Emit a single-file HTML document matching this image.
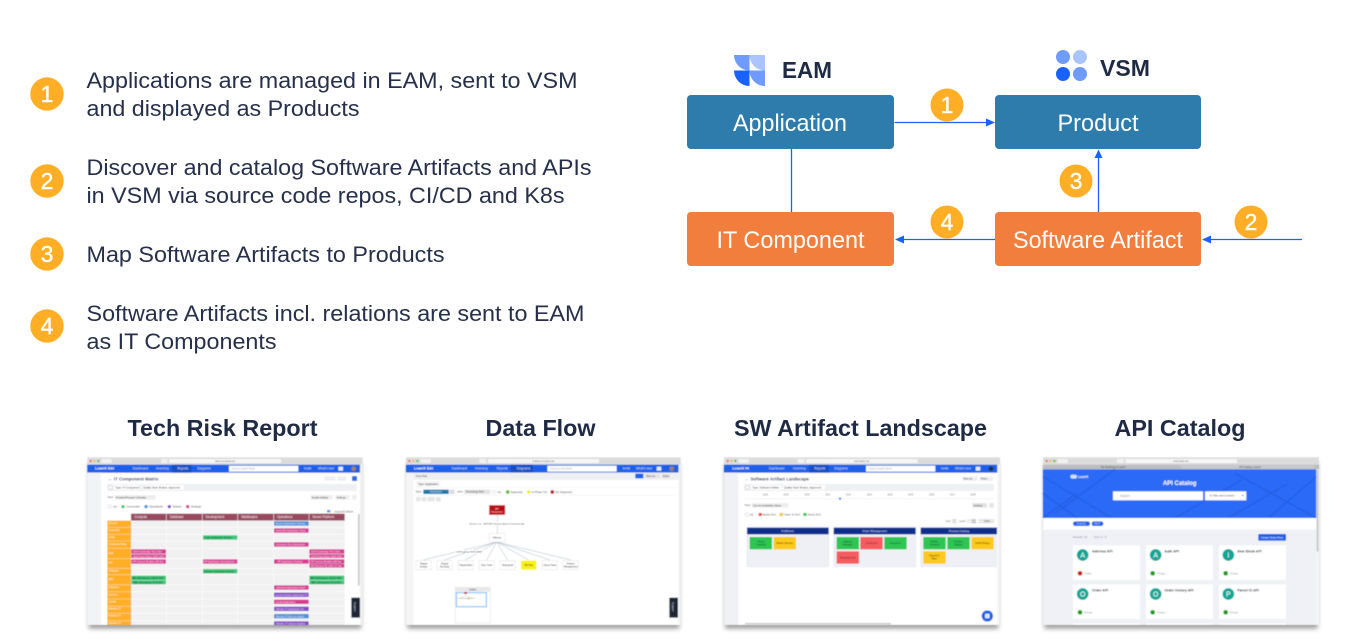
<!DOCTYPE html>
<html><head><meta charset="utf-8"><style>
html,body{margin:0;padding:0;background:#fff;width:1352px;height:644px;overflow:hidden}
svg{display:block;font-family:"Liberation Sans",sans-serif}
</style></head><body>
<svg width="1352" height="644" viewBox="0 0 1352 644" xmlns="http://www.w3.org/2000/svg">
<defs>
<filter id="bl" x="-5%" y="-5%" width="110%" height="110%"><feGaussianBlur stdDeviation="1.300"/></filter>
<filter id="sh" x="-10%" y="-10%" width="120%" height="125%"><feGaussianBlur stdDeviation="7"/></filter>
</defs>
<rect width="1352" height="644" fill="#fff"/>

<!-- left list -->
<g fill="#ffae26"><circle cx="47" cy="94" r="16.700"/><circle cx="47" cy="181" r="16.700"/><circle cx="47" cy="254" r="16.700"/><circle cx="47" cy="326" r="16.700"/></g>
<g fill="#fff" stroke="#fff" stroke-width=".4" font-size="23" text-anchor="middle"><text x="47" y="102">1</text><text x="47" y="189">2</text><text x="47" y="262">3</text><text x="47" y="334">4</text></g>
<g fill="#26304a" font-size="22.500">
<text x="86.500" y="88" textLength="491" lengthAdjust="spacingAndGlyphs">Applications are managed in EAM, sent to VSM</text>
<text x="86.500" y="116" textLength="273" lengthAdjust="spacingAndGlyphs">and displayed as Products</text>
<text x="86.500" y="175" textLength="505" lengthAdjust="spacingAndGlyphs">Discover and catalog Software Artifacts and APIs</text>
<text x="86.500" y="203" textLength="478" lengthAdjust="spacingAndGlyphs">in VSM via source code repos, CI/CD and K8s</text>
<text x="86.500" y="262" textLength="358" lengthAdjust="spacingAndGlyphs">Map Software Artifacts to Products</text>
<text x="86.500" y="321" textLength="498" lengthAdjust="spacingAndGlyphs">Software Artifacts incl. relations are sent to EAM</text>
<text x="86.500" y="349" textLength="190" lengthAdjust="spacingAndGlyphs">as IT Components</text>
</g>

<!-- logos -->
<path d="M734 55H749.500V70.500A15.500 15.500 0 0 1 734 55Z" fill="#6f9bff"/>
<path d="M749.500 55H765V70.500A15.500 15.500 0 0 1 749.500 55Z" fill="#a9c4ff"/>
<path d="M734 70.500H749.500V86A15.500 15.500 0 0 1 734 70.500Z" fill="#1a62ff"/>
<path d="M749.500 70.500H765V86A15.500 15.500 0 0 1 749.500 70.500Z" fill="#6f9bff"/>
<text x="782" y="78" font-size="23" font-weight="700" fill="#1f2a44" textLength="50" lengthAdjust="spacingAndGlyphs">EAM</text>
<circle cx="1063" cy="57" r="7" fill="#6f9bff"/><circle cx="1080" cy="57" r="7" fill="#a9c4ff"/>
<circle cx="1063" cy="74" r="7" fill="#1a62ff"/><circle cx="1080" cy="74" r="7" fill="#6f9bff"/>
<text x="1100" y="76" font-size="23" font-weight="700" fill="#1f2a44" textLength="50" lengthAdjust="spacingAndGlyphs">VSM</text>

<!-- boxes -->
<rect x="687" y="95" width="207" height="54" rx="4" fill="#2e7cac"/>
<rect x="995" y="95" width="206" height="54" rx="4" fill="#2e7cac"/>
<rect x="687" y="212" width="207" height="54" rx="4" fill="#f27e3d"/>
<rect x="995" y="212" width="206" height="54" rx="4" fill="#f27e3d"/>
<g fill="#fff" font-size="24" text-anchor="middle">
<text x="790" y="131" textLength="114" lengthAdjust="spacingAndGlyphs">Application</text>
<text x="1098" y="131" textLength="81" lengthAdjust="spacingAndGlyphs">Product</text>
<text x="790.500" y="248" textLength="148" lengthAdjust="spacingAndGlyphs">IT Component</text>
<text x="1098" y="248" textLength="170" lengthAdjust="spacingAndGlyphs">Software Artifact</text>
</g>

<!-- connectors -->
<g stroke="#1a62ff" stroke-width="1.300" fill="none">
<path d="M894.500 122.500H988"/>
<path d="M791.500 149V212"/>
<path d="M1098.500 212V155"/>
<path d="M995 239.500H901"/>
<path d="M1302 239.500H1208"/>
</g>
<g fill="#1a62ff">
<path d="M995 122.500L986 118.500V126.500Z"/>
<path d="M1098.500 149.500L1094.500 158H1102.500Z"/>
<path d="M895 239.500L904 235.500V243.500Z"/>
<path d="M1202 239.500L1211 235.500V243.500Z"/>
</g>
<g fill="#ffae26"><circle cx="947" cy="105" r="16.500"/><circle cx="1076" cy="181" r="16.500"/><circle cx="947" cy="222" r="16.500"/><circle cx="1251" cy="222" r="16.500"/></g>
<g fill="#fff" stroke="#fff" stroke-width=".4" font-size="23" text-anchor="middle"><text x="947" y="113">1</text><text x="1076" y="189">3</text><text x="947" y="230">4</text><text x="1251" y="230">2</text></g>

<!-- headings -->
<g fill="#1f2a44" font-size="23.500" font-weight="700" text-anchor="middle">
<text x="222.500" y="436" textLength="190" lengthAdjust="spacingAndGlyphs">Tech Risk Report</text>
<text x="540.500" y="436" textLength="110" lengthAdjust="spacingAndGlyphs">Data Flow</text>
<text x="860.500" y="436" textLength="253" lengthAdjust="spacingAndGlyphs">SW Artifact Landscape</text>
<text x="1180" y="436" textLength="131" lengthAdjust="spacingAndGlyphs">API Catalog</text>
</g>

<!-- thumbnail 1 -->
<g transform="translate(80,450) scale(.33333)">
<rect x="26" y="40" width="818" height="496" fill="#000" opacity=".38" filter="url(#sh)"/>
<g filter="url(#bl)" font-size="8">
<rect x="22" y="22" width="826" height="503" fill="#fff"/>
<rect x="22" y="22" width="826" height="22" fill="#dcdcdc"/>
<circle cx="32" cy="33" r="3.500" fill="#f0584f"/><circle cx="43" cy="33" r="3.500" fill="#f4b83c"/><circle cx="55" cy="33" r="3.500" fill="#49b84c"/>
<rect x="65" y="27" width="30" height="12" fill="#f2f2f2"/><rect x="244" y="27" width="18" height="12" fill="#f2f2f2"/>
<rect x="268" y="27" width="335" height="12" fill="#f6f6f6"/><text x="435" y="36" text-anchor="middle" font-size="7" fill="#555">demo-eu.leanix.net</text>
<rect x="22" y="44" width="818" height="24" fill="#1a5fe8"/>
<rect x="276" y="44" width="58" height="24" fill="#164fc4"/>
<text x="45" y="59" fill="#fff" font-weight="700" font-size="11">LeanIX EAI</text>
<g fill="#d8e4ff" font-size="9.500"><text x="158" y="59">Dashboard</text><text x="228" y="59">Inventory</text><text x="292" y="59">Reports</text><text x="352" y="59">Diagrams</text><text x="672" y="59">Invite</text><text x="714" y="59">What's new</text></g>
<rect x="447" y="47" width="208" height="18" fill="#fff"/><text x="455" y="59" font-size="7" fill="#999">Jump to LeanIX Street</text>
<rect x="775" y="50" width="14" height="12" fill="#e8eefc"/><circle cx="821" cy="56" r="7" fill="#9a8070"/>
<rect x="840" y="44" width="8" height="481" fill="#f0f0f0"/>
<rect x="22" y="68" width="41" height="457" fill="#f2f3f5"/>
<text x="84" y="92" font-size="13.500" font-weight="700" fill="#26304a">← IT Component Matrix</text>
<rect x="733" y="80" width="34" height="12" fill="#eee"/><rect x="772" y="80" width="26" height="12" fill="#eee"/><rect x="816" y="78" width="15" height="15" fill="#2a6fe0"/>
<rect x="82" y="102" width="748" height="21" fill="#eef0f4"/>
<circle cx="91" cy="112" r="6" fill="#fff" stroke="#999"/><rect x="102" y="106" width="77" height="13" fill="#fff"/><rect x="186" y="106" width="125" height="13" fill="#fff"/>
<text x="106" y="115" font-size="8" fill="#333">Type: IT Component</text><text x="189" y="115" font-size="8" fill="#333">Quality Seal: Broken, Approved</text>
<text x="82" y="144" font-size="8" fill="#555">View:</text><rect x="104" y="135" width="122" height="14" fill="#eee"/><text x="108" y="145" font-size="7.500" fill="#444">Provider/Provider Criticality</text><rect x="692" y="135" width="66" height="14" fill="#eee"/><text x="696" y="145" font-size="7.500" fill="#444">Enable Editing</text><rect x="766" y="135" width="42" height="14" fill="#eee"/><text x="770" y="145" font-size="7.500" fill="#444">Settings</text><rect x="816" y="135" width="14" height="14" fill="#eee"/>
<rect x="85" y="165" width="9" height="9" fill="#fff" stroke="#bbb"/><text x="99" y="173" font-size="8" fill="#444">n/a</text>
<circle cx="129" cy="170" r="5" fill="#3cc66e"/><circle cx="198" cy="170" r="5" fill="#3f8ddb"/><circle cx="268" cy="170" r="5" fill="#7c45c4"/><circle cx="323" cy="170" r="5" fill="#d5358e"/>
<g font-size="8" fill="#444"><text x="139" y="173">Commodity</text><text x="207" y="173">Operational</text><text x="277" y="173">Tactical</text><text x="333" y="173">Strategic</text></g>
<rect x="741" y="180" width="10" height="7" fill="#4b90d8"/><text x="764" y="187" font-size="7.500" fill="#666">Expand/Collapse</text>
<rect x="153" y="191" width="641" height="21" fill="#98495f"/>
<g stroke="#fff" stroke-width="1.500"><path d="M259 191V212M367 191V212M473 191V212M581 191V212M687 191V212"/></g>
<g font-size="9.500" fill="#fff"><text x="163" y="204">Compute</text><text x="270" y="204">Database</text><text x="377" y="204">Development</text><text x="484" y="204">Middleware</text><text x="591" y="204">Operations</text><text x="697" y="204">Server Platform</text></g>
<rect x="153" y="212" width="641" height="313" fill="#f1f1f1"/>
<g stroke="#fff" stroke-width="1.500"><path d="M259 212V525M367 212V525M473 212V525M581 212V525M687 212V525M153 232H794M153 253H794M153 273H794M153 295H794M153 326H794M153 355H794M153 374H794M153 404H794M153 425H794M153 447H794M153 469H794M153 490H794M153 512H794"/></g>
<rect x="82" y="212" width="71" height="313" fill="#ffae26"/>
<g stroke="#fff"><path d="M82 232H153M82 253H153M82 273H153M82 295H153M82 326H153M82 355H153M82 374H153M82 404H153M82 425H153M82 447H153M82 469H153M82 490H153M82 512H153"/></g>
<g font-size="8" fill="#fff"><text x="86" y="222">Access</text><text x="86" y="243">AutoCAD</text><text x="86" y="264">Inxile</text><text x="86" y="285">Customer King</text><text x="86" y="312">Dell</text><text x="86" y="340">HP</text><text x="86" y="365">Hubspot</text><text x="86" y="390">IBM</text><text x="86" y="414">jetbrains</text><text x="86" y="436">Lenovo</text><text x="86" y="458">Lynda</text><text x="86" y="479">Mantiss IT</text><text x="86" y="500">Mantiss IT</text><text x="86" y="522">Mantiss IT</text></g>
<g fill="#d53b8f">
<rect x="582" y="235" width="104" height="13"/><rect x="582" y="277" width="104" height="13"/>
<rect x="154" y="298" width="104" height="13"/><rect x="154" y="313" width="104" height="11"/>
<rect x="688" y="298" width="105" height="13"/><rect x="688" y="313" width="105" height="11"/>
<rect x="154" y="328" width="104" height="13"/><rect x="369" y="328" width="103" height="13"/><rect x="582" y="328" width="104" height="13"/><rect x="688" y="328" width="105" height="13"/><rect x="688" y="342" width="105" height="11"/>
<rect x="582" y="406" width="104" height="13"/><rect x="582" y="449" width="104" height="13"/>
</g>
<g fill="#3fc77a">
<rect x="369" y="256" width="103" height="13"/><rect x="369" y="357" width="103" height="13"/>
<rect x="154" y="377" width="104" height="13"/><rect x="154" y="391" width="104" height="12"/>
<rect x="688" y="377" width="105" height="13"/><rect x="688" y="391" width="105" height="12"/>
</g>
<g fill="#4a90d9"><rect x="582" y="214" width="104" height="13"/><rect x="582" y="492" width="104" height="13"/></g>
<g fill="#7d46c6"><rect x="582" y="428" width="104" height="13"/><rect x="582" y="470" width="104" height="13"/><rect x="582" y="514" width="104" height="11"/></g>
<g font-size="7.500" fill="#fbe3ef">
<text x="588" y="245">AutoCAD Application Hosti</text><text x="588" y="287">Customer King Application</text>
<text x="160" y="308">Dell Knowledge Tiko Clien</text><text x="160" y="322">Dell Power Edge 1940 1941</text>
<text x="694" y="308">Dell Knowledge Tiko Clien</text><text x="694" y="322">Dell Power Edge 1940 1941</text>
<text x="158" y="338">HP Conson Brokilia 168 Ser</text><text x="372" y="338">HP Application Developmen</text><text x="592" y="338">HP Application Hosting</text><text x="692" y="338">HP Conson Brokilia 168 Ser</text><text x="692" y="351">HP ProLiant DL 630r G7 Ser</text>
<text x="588" y="416">Jetbrains Application Hosti</text><text x="588" y="459">Lynda Application</text>
<text x="586" y="224">Access Application Hosting</text><text x="588" y="502">Mantiss IT Memory Applic</text>
<text x="586" y="438">Lenovo Docker Application H</text><text x="588" y="480">Mantiss IT Application Ho</text><text x="588" y="524">Mantiss IT Volume Applica</text>
</g>
<g font-size="7.500" fill="#0c3a20">
<text x="374" y="266">Inxile Application Develo</text><text x="372" y="367">Hubspot Application Develo</text>
<text x="157" y="387">IBM WebSphere MQ/XI B55</text><text x="160" y="400">IBM z/Enterprise 5715 0K7</text>
<text x="691" y="387">IBM WebSphere MQ/XI B55</text><text x="694" y="400">IBM z/Enterprise 5715 0K7</text>
</g>
<rect x="834" y="192" width="5" height="215" fill="#c9c9c9"/>
<rect x="814" y="443" width="26" height="60" fill="#1d2536"/>
<text transform="translate(822,456) rotate(90)" font-size="8" fill="#ddd">Support</text>
</g></g>

<!-- thumbnail 2 -->
<g transform="translate(400,450) scale(.33333)">
<rect x="22" y="40" width="816" height="496" fill="#000" opacity=".38" filter="url(#sh)"/>
<g filter="url(#bl)" font-size="8">
<rect x="18" y="22" width="824" height="503" fill="#fff"/>
<rect x="18" y="22" width="824" height="22" fill="#dcdcdc"/>
<circle cx="28" cy="33" r="3.500" fill="#f0584f"/><circle cx="40" cy="33" r="3.500" fill="#f4b83c"/><circle cx="52" cy="33" r="3.500" fill="#49b84c"/>
<rect x="62" y="27" width="30" height="12" fill="#f2f2f2"/><rect x="238" y="27" width="20" height="12" fill="#f2f2f2"/>
<rect x="264" y="27" width="333" height="12" fill="#f6f6f6"/><text x="430" y="36" text-anchor="middle" font-size="7" fill="#555">d-demo-eu.leanix.net</text>
<rect x="18" y="44" width="818" height="24" fill="#1a5fe8"/>
<rect x="332" y="44" width="67" height="24" fill="#164fc4"/>
<text x="42" y="59" fill="#fff" font-weight="700" font-size="11">LeanIX EAI</text>
<g fill="#d8e4ff" font-size="9.500"><text x="155" y="59">Dashboard</text><text x="225" y="59">Inventory</text><text x="290" y="59">Reports</text><text x="350" y="59">Diagrams</text><text x="668" y="59">Invite</text><text x="708" y="59">What's new</text></g>
<rect x="442" y="47" width="208" height="18" fill="#fff"/><text x="450" y="59" font-size="7" fill="#999">Jump to a Fact Sheet</text>
<rect x="770" y="50" width="14" height="12" fill="#e8eefc"/><circle cx="815" cy="56" r="7" fill="#9a8070"/>
<rect x="836" y="44" width="6" height="481" fill="#f0f0f0"/>
<rect x="18" y="68" width="22" height="457" fill="#f5f5f5"/>
<rect x="40" y="68" width="796" height="22" fill="#eef0f4"/>
<text x="47" y="81" font-size="8" fill="#333">Tech Risk</text>
<rect x="706" y="71" width="24" height="14" fill="#1a5fe8"/><rect x="736" y="71" width="44" height="14" fill="#e4e4e4"/><text x="738" y="81" font-size="7.500" fill="#444">Save as</text><rect x="786" y="71" width="24" height="14" fill="#e4e4e4"/><text x="788" y="81" font-size="7.500" fill="#444">Share</text>
<rect x="48" y="94" width="72" height="16" fill="#f4f4f4"/><text x="54" y="105" font-size="8" fill="#333">Type: Application</text>
<text x="46" y="128" font-size="8" fill="#444">Type:</text><rect x="70" y="119" width="76" height="13" fill="#1e7aab"/><text x="108" y="128" text-anchor="middle" font-size="7.500" fill="#d5ecf7">Application</text><rect x="148" y="119" width="16" height="13" fill="#ddd"/>
<text x="171" y="128" font-size="8" fill="#444">View:</text><rect x="193" y="119" width="78" height="13" fill="#e4e4e4"/><text x="197" y="128" font-size="7.500" fill="#444">Technology Risk</text>
<circle cx="282" cy="126" r="5" fill="#fff" stroke="#bbb"/><text x="292" y="129" font-size="8" fill="#444">n/a</text><rect x="318" y="121" width="10" height="10" fill="#6eb43a"/><circle cx="386" cy="126" r="5" fill="#f2e70c"/><rect x="452" y="121" width="10" height="10" fill="#b00f14"/>
<g font-size="8" fill="#444"><text x="331" y="129">Supported</text><text x="395" y="129">In Phase Out</text><text x="465" y="129">Not Supported</text></g>
<rect x="48" y="141" width="14" height="13" fill="#e6e6e6"/><rect x="65" y="141" width="14" height="13" fill="#e6e6e6"/><rect x="82" y="141" width="22" height="13" fill="#e6e6e6"/><rect x="108" y="141" width="14" height="13" fill="#e6e6e6"/>
<path d="M40 113H836M40 136H836" stroke="#e8e8e8"/>
<g stroke="#8fa7bd" stroke-width="1.300" fill="none">
<path d="M292 194V250M290 276L70 330M290 276L134 330M290 276L196 330M290 276L260 330M290 276L323 330M290 276L386 330M290 276L449 330M290 276L512 330"/>
</g>
<rect x="268" y="166" width="47" height="28" fill="#b80f15" stroke="#e55"/>
<text x="291" y="179" text-anchor="middle" font-size="6.500" fill="#fff">API</text><text x="291" y="187" text-anchor="middle" font-size="6" fill="#fff">Management</text>
<rect x="203" y="216" width="176" height="9" fill="#fff"/><text x="291" y="223" text-anchor="middle" font-size="6.500" fill="#333">Amazon, Inc. / AWS API Gateway, Apache Integration Api</text>
<rect x="268" y="250" width="47" height="26" fill="#fff" stroke="#ddd" stroke-width="1.500"/><text x="291" y="265" text-anchor="middle" font-size="7" fill="#333">Alfresco</text>
<rect x="165" y="300" width="84" height="9" fill="#fff"/><text x="207" y="307" text-anchor="middle" font-size="6.500" fill="#333">Dell/Kingdiege PAXE SAAP</text>
<g fill="#fff" stroke="#ddd" stroke-width="1.500">
<rect x="48" y="332" width="46" height="27"/><rect x="111" y="332" width="46" height="27"/><rect x="174" y="332" width="46" height="27"/><rect x="237" y="332" width="46" height="27"/><rect x="300" y="332" width="46" height="27"/><rect x="426" y="332" width="46" height="27"/><rect x="489" y="332" width="46" height="27"/>
</g>
<rect x="363" y="332" width="46" height="27" fill="#fbf109"/>
<g font-size="7" fill="#333" text-anchor="middle"><text x="71" y="344">Paypal</text><text x="71" y="352">Europe</text><text x="134" y="344">Paypal</text><text x="134" y="352">Germany</text><text x="197" y="348">Paypal Bold</text><text x="260" y="348">Time Track</text><text x="323" y="348">Sharepoint</text><text x="386" y="348">HR Plus</text><text x="449" y="348">Casca Track</text><text x="512" y="344">Finance</text><text x="512" y="352">Management</text></g>
<rect x="166" y="412" width="105" height="107" fill="#fff" stroke="#ddd" stroke-width="1.500"/>
<rect x="166" y="412" width="105" height="13" fill="#e8e8e8"/>
<text x="218" y="421" text-anchor="middle" font-size="7" fill="#333">Outline</text>
<rect x="169" y="428" width="90" height="42" fill="#fff" stroke="#6db9ff" stroke-width="3"/>
<rect x="193" y="426" width="8" height="6" fill="#b80f15"/><circle cx="206" cy="446" r="3.500" fill="#f2e70c"/><path d="M172 445H225" stroke="#aaa" stroke-width="2"/><path d="M197 436L180 445M197 436L215 445" stroke="#aaa"/>
<rect x="808" y="443" width="26" height="60" fill="#1d2536"/>
<text transform="translate(816,456) rotate(90)" font-size="8" fill="#ddd">Support</text>
</g></g>

<!-- thumbnail 3 -->
<g transform="translate(715,450) scale(.33333)">
<rect x="30" y="40" width="820" height="496" fill="#000" opacity=".38" filter="url(#sh)"/>
<g filter="url(#bl)" font-size="8">
<rect x="27" y="22" width="828" height="503" fill="#fff"/>
<rect x="27" y="22" width="828" height="22" fill="#dcdcdc"/>
<circle cx="38" cy="33" r="3.500" fill="#f0584f"/><circle cx="49" cy="33" r="3.500" fill="#f4b83c"/><circle cx="61" cy="33" r="3.500" fill="#49b84c"/>
<rect x="71" y="27" width="30" height="12" fill="#f2f2f2"/><rect x="248" y="27" width="20" height="12" fill="#f2f2f2"/>
<rect x="274" y="27" width="334" height="12" fill="#f6f6f6"/><text x="440" y="36" text-anchor="middle" font-size="7" fill="#555">d-de.leanix.net</text>
<rect x="27" y="44" width="820" height="24" fill="#1a5fe8"/>
<rect x="283" y="44" width="58" height="24" fill="#164fc4"/>
<text x="52" y="59" fill="#fff" font-weight="700" font-size="11">LeanIX HI</text>
<g fill="#d8e4ff" font-size="9.500"><text x="162" y="59">Dashboard</text><text x="234" y="59">Inventory</text><text x="298" y="59">Reports</text><text x="358" y="59">Diagrams</text><text x="678" y="59">Invite</text><text x="720" y="59">What's new</text></g>
<rect x="453" y="47" width="208" height="18" fill="#fff"/><text x="461" y="59" font-size="7" fill="#999">Jump to LeanIX Street</text>
<rect x="782" y="50" width="14" height="12" fill="#e8eefc"/><circle cx="828" cy="56" r="7" fill="#234"/>
<rect x="847" y="44" width="8" height="481" fill="#f4f4f4"/>
<rect x="27" y="68" width="43" height="457" fill="#f0f1f4"/>
<text x="90" y="92" font-size="13" font-weight="700" fill="#26304a">← Software Artifact Landscape</text>
<rect x="742" y="80" width="46" height="12" fill="#eee"/><text x="745" y="89" font-size="7.500" fill="#444">Save as</text><rect x="794" y="80" width="40" height="12" fill="#eee"/><text x="797" y="89" font-size="7.500" fill="#444">Share</text>
<rect x="87" y="102" width="750" height="21" fill="#eef0f4"/>
<circle cx="97" cy="112" r="6" fill="#fff" stroke="#999"/><rect x="108" y="106" width="90" height="13" fill="#fff"/><rect x="203" y="106" width="127" height="13" fill="#fff"/>
<text x="112" y="115" font-size="8" fill="#333">Type: Software Artifact</text><text x="207" y="115" font-size="8" fill="#333">Quality Seal: Broken, Approved</text>
<g font-size="7" fill="#777" text-anchor="middle"><text x="151" y="136">2016</text><text x="213" y="136">2018</text><text x="276" y="136">2020</text><text x="338" y="136">2021</text><text x="400" y="136">2022</text><text x="463" y="136">2023</text><text x="525" y="136">2024</text><text x="587" y="136">2025</text><text x="650" y="136">2026</text><text x="712" y="136">2027</text><text x="774" y="136">2028</text></g>
<path d="M87 146H837" stroke="#ddd"/><rect x="372" y="143" width="6" height="6" fill="#1a5fe8"/>
<text x="88" y="168" font-size="8" fill="#555">View:</text><rect x="110" y="159" width="110" height="14" fill="#eee"/><text x="114" y="169" font-size="7.500" fill="#444">Current Availability Status</text><rect x="772" y="159" width="44" height="14" fill="#e4e4e4"/><text x="776" y="169" font-size="7.500" fill="#444">Settings</text><rect x="823" y="159" width="13" height="14" fill="#e4e4e4"/>
<rect x="91" y="189" width="9" height="9" fill="#fff" stroke="#bbb"/><text x="104" y="197" font-size="8" fill="#444">n/a</text>
<rect x="131" y="189" width="10" height="9" fill="#ee3f48"/><rect x="194" y="189" width="10" height="9" fill="#f7c21c"/><rect x="265" y="189" width="10" height="9" fill="#2dc653"/>
<g font-size="8" fill="#444"><text x="144" y="197">Below SLA</text><text x="207" y="197">Close To SLA</text><text x="278" y="197">Above SLA</text></g>
<text x="692" y="216" font-size="7.500" fill="#555">Sort:</text><rect x="712" y="207" width="12" height="13" fill="#ddd"/><text x="732" y="216" font-size="7.500" fill="#555">Level:</text><rect x="755" y="207" width="12" height="13" fill="#eee"/><rect x="769" y="207" width="14" height="13" fill="#ccc"/><rect x="790" y="207" width="48" height="13" fill="#e8e8e8"/><text x="806" y="216" font-size="7.500" fill="#555">100%</text>
<g fill="#eef0f5" stroke="#d5d9e6"><rect x="96" y="232" width="245" height="118"/><rect x="356" y="232" width="246" height="118"/><path d="M846 232H617V350H846"/></g>
<g fill="#0f2f8a"><rect x="96" y="233" width="245" height="20"/><rect x="356" y="233" width="246" height="20"/><rect x="617" y="233" width="229" height="20"/></g>
<g font-size="8.500" fill="#dfe6ff" text-anchor="middle"><text x="218" y="246">Fulfilment</text><text x="479" y="246">Order Management</text><text x="732" y="246">Product Catalog</text></g>
<g fill="#2dc653"><rect x="104" y="261" width="67" height="37"/><rect x="365" y="261" width="67" height="37"/><rect x="508" y="261" width="67" height="37"/><rect x="625" y="261" width="67" height="37"/><rect x="697" y="261" width="67" height="37"/></g>
<g fill="#fcc91c"><rect x="176" y="261" width="67" height="37"/><rect x="769" y="261" width="67" height="37"/><rect x="625" y="304" width="67" height="37"/></g>
<g fill="#f45b5f"><rect x="436" y="261" width="67" height="37"/><rect x="365" y="304" width="67" height="37"/></g>
<g font-size="7.500" text-anchor="middle" fill="#1d4a2a"><text x="138" y="277">Parcel</text><text x="138" y="287">Tracking</text><text x="398" y="277">Address</text><text x="398" y="287">Manager</text><text x="541" y="282">Payments</text><text x="658" y="277">Mobile</text><text x="658" y="287">Frontend</text><text x="730" y="277">Product</text><text x="730" y="287">Display</text></g>
<g font-size="7.500" text-anchor="middle" fill="#4a3c05"><text x="209" y="282">Return Service</text><text x="802" y="282">Profit Pricing</text><text x="658" y="319">Search &amp;</text><text x="658" y="329">Filter</text></g>
<g font-size="7.500" text-anchor="middle" fill="#702226"><text x="469" y="282">Check-out</text><text x="398" y="325">Shopping Cart</text></g>
<rect x="90" y="519" width="438" height="4" fill="#c4c4c4"/>
<circle cx="817" cy="498" r="17" fill="#1a5fe8"/><rect x="810" y="491" width="14" height="14" rx="2" fill="#dce6ff"/>
</g></g>

<!-- thumbnail 4 -->
<g transform="translate(1035,450) scale(.33333)">
<rect x="28" y="40" width="820" height="496" fill="#000" opacity=".38" filter="url(#sh)"/>
<g filter="url(#bl)" font-size="8">
<rect x="24" y="22" width="828" height="503" fill="#eff1f6"/>
<rect x="24" y="22" width="828" height="22" fill="#dcdcdc"/>
<rect x="24" y="44" width="828" height="14" fill="#bdbdbd"/>
<rect x="438" y="44" width="400" height="14" fill="#c8c8c8"/>
<circle cx="35" cy="33" r="3.500" fill="#f0584f"/><circle cx="46" cy="33" r="3.500" fill="#f4b83c"/><circle cx="58" cy="33" r="3.500" fill="#49b84c"/>
<rect x="68" y="27" width="30" height="12" fill="#f2f2f2"/><rect x="246" y="27" width="20" height="12" fill="#f2f2f2"/>
<rect x="271" y="27" width="335" height="12" fill="#f6f6f6"/><text x="438" y="36" text-anchor="middle" font-size="7" fill="#555">d-de.leanix.net</text>
<text x="235" y="54" text-anchor="middle" font-size="7" fill="#444">My Dashboard | LeanIX</text><text x="645" y="54" text-anchor="middle" font-size="7" fill="#444">API Catalog | LeanIX</text>
<rect x="24" y="58" width="820" height="146" fill="#2b6bf6"/>
<g stroke="#2560e8" stroke-width="5" fill="none"><path d="M24 80L230 204M24 130L126 204M126 130L24 204M240 58L60 190M420 204L620 90M580 204L760 100M600 70L844 204M844 80L700 204"/></g>
<rect x="106" y="74" width="20" height="12" rx="6" fill="#cfe0ff"/><text x="129" y="84" fill="#fff" font-weight="700" font-size="9.500">LeanIX</text>
<text x="434" y="105" text-anchor="middle" font-size="18" font-weight="700" fill="#fff">API Catalog</text>
<rect x="234" y="124" width="270" height="27" fill="#fff"/><rect x="510" y="124" width="124" height="27" fill="#fff"/>
<text x="255" y="141" fill="#999" font-size="9.500">Search</text><text x="524" y="140" fill="#444" font-size="8.500">In Title and Content</text><path d="M619 135h8l-4 4z" fill="#2b6bf6"/>
<rect x="24" y="204" width="820" height="35" fill="#fff"/>
<rect x="114" y="214" width="51" height="14" rx="7" fill="#1a5fe8"/><rect x="170" y="214" width="35" height="14" rx="7" fill="#1a5fe8"/>
<text x="139" y="224" text-anchor="middle" font-size="7" fill="#dbe6ff">GraphQL</text><text x="187" y="224" text-anchor="middle" font-size="7" fill="#dbe6ff">REST</text>
<text x="114" y="264" fill="#889" font-size="8.500">Results: 18</text><text x="177" y="264" fill="#889" font-size="8.500">Sort: A - Z</text>
<rect x="670" y="252" width="83" height="20" fill="#1a5fe8"/><text x="711" y="265" text-anchor="middle" font-size="8" fill="#fff">Create Swiss Flow</text>
<g fill="#fff"><rect x="114" y="286" width="201" height="104"/><rect x="333" y="286" width="201" height="104"/><rect x="552" y="286" width="201" height="104"/><rect x="114" y="403" width="201" height="104"/><rect x="333" y="403" width="201" height="104"/><rect x="552" y="403" width="201" height="104"/><rect x="114" y="520" width="201" height="5"/><rect x="333" y="520" width="201" height="5"/><rect x="552" y="520" width="201" height="5"/></g>
<g fill="#10a798"><circle cx="143" cy="315" r="17.500"/><circle cx="362" cy="315" r="17.500"/><circle cx="580" cy="315" r="17.500"/><circle cx="143" cy="432" r="17.500"/><circle cx="362" cy="432" r="17.500"/><circle cx="580" cy="432" r="17.500"/></g>
<g fill="#fff" font-size="21" text-anchor="middle"><text x="143" y="323">A</text><text x="362" y="323">A</text><text x="580" y="323">I</text><text x="143" y="440">O</text><text x="362" y="440">O</text><text x="580" y="440">P</text></g>
<g font-size="10.500" font-weight="700" fill="#2a2f3a"><text x="171" y="308">Address API</text><text x="388" y="308">Auth API</text><text x="607" y="308">Item Stock API</text><text x="171" y="425">Order API</text><text x="388" y="425">Order History API</text><text x="607" y="425">Parcel ID API</text></g>
<circle cx="135" cy="370" r="7" fill="#cf1b1b"/><g fill="#1f9a1f"><circle cx="353" cy="370" r="7"/><circle cx="572" cy="370" r="7"/><circle cx="135" cy="487" r="7"/><circle cx="353" cy="487" r="7"/><circle cx="572" cy="487" r="7"/></g>
<g font-size="8" fill="#999"><text x="148" y="373">Public</text><text x="366" y="373">Private</text><text x="585" y="373">Private</text><text x="148" y="490">Private</text><text x="366" y="490">Private</text><text x="585" y="490">Private</text></g>
<rect x="844" y="58" width="8" height="467" fill="#f6f6f6"/><rect x="845" y="60" width="5" height="245" fill="#c4c4c4"/>
</g></g>
</svg>
</body></html>
